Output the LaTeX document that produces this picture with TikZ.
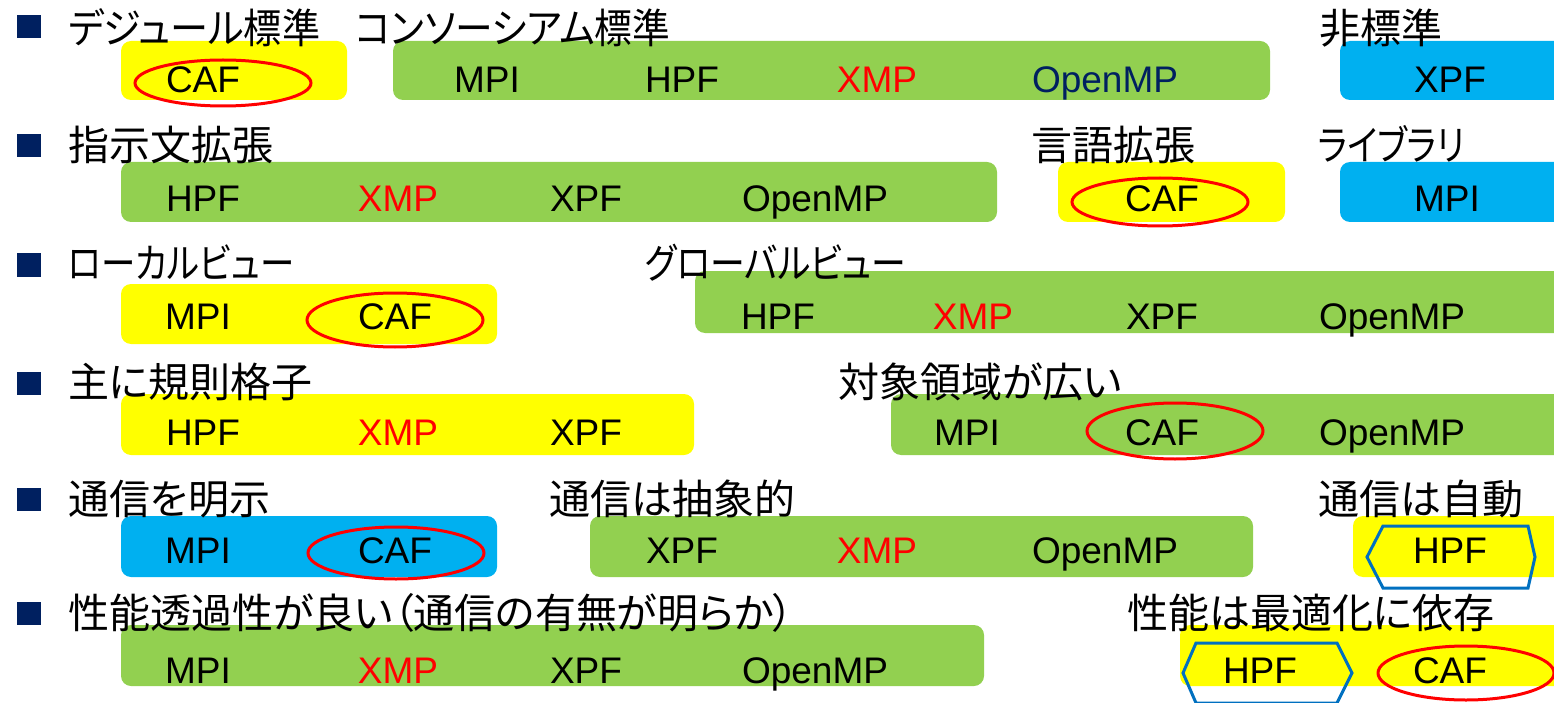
\documentclass[tikz,border=0pt]{standalone}
\usepackage{fontspec}
\usepackage{graphicx}
\setmainfont{Liberation Sans}
\newfontfamily\jp[RawFeature=+palt]{Noto Sans CJK JP}
\definecolor{cgreen}{HTML}{92D050}
\definecolor{cyellow}{HTML}{FFFF00}
\definecolor{cblue}{HTML}{00B0F0}
\definecolor{cred}{HTML}{FF0000}
\definecolor{cnavy}{HTML}{002060}
\definecolor{chex}{HTML}{0070C0}
\newcommand\pbox[5]{\fill[#1, rounded corners=10pt] (#2,#3) rectangle (#4,#5);}
\newcommand\nar[2]{\scalebox{#1}[1]{#2}}
\begin{document}
\begin{tikzpicture}[x=1pt,y=-1pt,
  bullet/.style={fill=cnavy, minimum width=24pt, minimum height=23pt, inner sep=0pt},
  head/.style={anchor=base west, inner sep=0pt, font=\jp\fontsize{41}{44}\selectfont},
  lbl/.style={anchor=base, inner sep=0pt, font=\fontsize{37}{40}\selectfont},
  ell/.style={draw=cred, line width=3pt},
  hexa/.style={draw=chex, line width=3pt, line join=miter}]
\useasboundingbox (0,0) rectangle (1554,703);
\clip (0,0) rectangle (1554,703);
% bullets
\node[bullet] (q1) at (29,27) {};
\node[bullet] (q2) at (29,146) {};
\node[bullet] (q3) at (29,265) {};
\node[bullet] (q4) at (29,383) {};
\node[bullet] (q5) at (29,499) {};
\node[bullet] (q6) at (29,613) {};
% row 1
\pbox{cyellow}{121}{41}{347}{100}
\pbox{cgreen}{393}{41}{1270}{100}
\pbox{cblue}{1340}{41}{1580}{100}
\node[head] (h1a) at (68,44) {\nar{0.93}{デジュール標準}};
\node[head] (h1b) at (355,44) {\nar{0.92}{コンソーシアム標準}};
\node[head] (h1c) at (1319,44) {非標準};
\node[lbl] (r1caf) at (203,93) {CAF};
\node[lbl] (r1mpi) at (487,93) {MPI};
\node[lbl] (r1hpf) at (682,93) {HPF};
\node[lbl, text=cred] (r1xmp) at (877,93) {XMP};
\node[lbl, text=cnavy] (r1omp) at (1105,93) {OpenMP};
\node[lbl] (r1xpf) at (1450,93) {XPF};
\draw[ell] (223,83) ellipse [x radius=88, y radius=23];
% row 2
\pbox{cgreen}{121}{162}{997}{222}
\pbox{cyellow}{1058}{162}{1285}{222}
\pbox{cblue}{1340}{162}{1580}{222}
\node[head] (h2a) at (68,161) {指示文拡張};
\node[head] (h2b) at (1031,161) {言語拡張};
\node[head] (h2c) at (1318,161) {\nar{0.83}{ライブラリ}};
\node[lbl] (r2hpf) at (203,212) {HPF};
\node[lbl, text=cred] (r2xmp) at (398,212) {XMP};
\node[lbl] (r2xpf) at (586,212) {XPF};
\node[lbl] (r2omp) at (815,212) {OpenMP};
\node[lbl] (r2caf) at (1162,212) {CAF};
\node[lbl] (r2mpi) at (1447,212) {MPI};
\draw[ell] (1160,202) ellipse [x radius=88, y radius=24];
% row 3
\pbox{cyellow}{121}{284}{497}{344}
\pbox{cgreen}{695}{271}{1580}{333}
\node[head] (h3a) at (68,278) {\nar{0.84}{ローカルビュー}};
\node[head] (h3b) at (645,278) {\nar{0.85}{グローバルビュー}};
\node[lbl] (r3mpi) at (198,329) {MPI};
\node[lbl] (r3caf) at (395,329) {CAF};
\node[lbl] (r3hpf) at (778,329) {HPF};
\node[lbl, text=cred] (r3xmp) at (973,329) {XMP};
\node[lbl] (r3xpf) at (1162,329) {XPF};
\node[lbl] (r3omp) at (1392,329) {OpenMP};
\draw[ell] (395,320) ellipse [x radius=88, y radius=27];
% row 4
\pbox{cyellow}{121}{394}{694}{455}
\pbox{cgreen}{891}{394}{1580}{455}
\node[head] (h4a) at (68,397) {主に規則格子};
\node[head] (h4b) at (838,397) {対象領域が広い};
\node[lbl] (r4hpf) at (203,445) {HPF};
\node[lbl, text=cred] (r4xmp) at (398,445) {XMP};
\node[lbl] (r4xpf) at (586,445) {XPF};
\node[lbl] (r4mpi) at (967,445) {MPI};
\node[lbl] (r4caf) at (1162,445) {CAF};
\node[lbl] (r4omp) at (1392,445) {OpenMP};
\draw[ell] (1175,431) ellipse [x radius=88, y radius=28];
% row 5
\pbox{cblue}{121}{516}{497}{577}
\pbox{cgreen}{590}{516}{1253}{577}
\pbox{cyellow}{1353}{516}{1580}{577}
\node[head] (h5a) at (68,514) {通信を明示};
\node[head] (h5b) at (549,514) {通信は抽象的};
\node[head] (h5c) at (1318,514) {通信は自動};
\node[lbl] (r5mpi) at (198,563) {MPI};
\node[lbl] (r5caf) at (395,563) {CAF};
\node[lbl] (r5xpf) at (682,563) {XPF};
\node[lbl, text=cred] (r5xmp) at (877,563) {XMP};
\node[lbl] (r5omp) at (1105,563) {OpenMP};
\node[lbl] (r5hpf) at (1450,563) {HPF};
\draw[ell] (396,553) ellipse [x radius=88, y radius=26];
\draw[hexa] (1367,557) -- (1383,526) -- (1528,526) -- (1535,557) -- (1528,588) -- (1383,588) -- cycle;
% row 6
\pbox{cgreen}{121}{625}{984}{686}
\pbox{cyellow}{1180}{625}{1580}{686}
\node[head] (h6a) at (68,628) {性能透過性が良い（通信の有無が明らか）};
\node[head] (h6b) at (1127,628) {性能は最適化に依存};
\node[lbl] (r6mpi) at (198,683) {MPI};
\node[lbl, text=cred] (r6xmp) at (398,683) {XMP};
\node[lbl] (r6xpf) at (586,683) {XPF};
\node[lbl] (r6omp) at (815,683) {OpenMP};
\node[lbl] (r6hpf) at (1260,683) {HPF};
\node[lbl] (r6caf) at (1450,683) {CAF};
\draw[hexa] (1183,673) -- (1196,643) -- (1337,643) -- (1352,673) -- (1337,703) -- (1196,703) -- cycle;
\draw[ell] (1466,673) ellipse [x radius=88, y radius=27];
\end{tikzpicture}
\end{document}
